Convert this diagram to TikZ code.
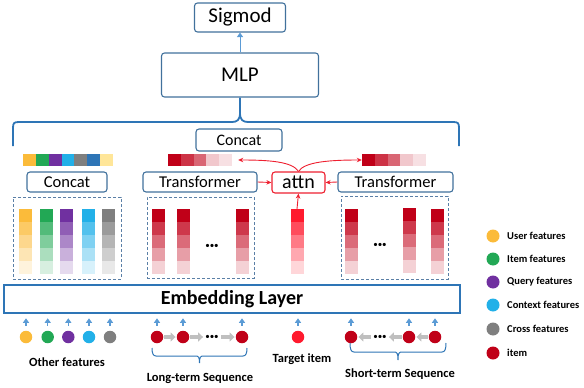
\documentclass[tikz,border=0pt]{standalone}
\usepackage{fontspec}
\setmainfont{Carlito}
\usetikzlibrary{arrows.meta}
\definecolor{boxblue}{HTML}{41719C}
\definecolor{dashblue}{HTML}{5A7FA6}
\definecolor{braceblue}{HTML}{2E75B6}
\definecolor{arrblue}{HTML}{5B9BD5}
\definecolor{cyel}{HTML}{FBBB3A}
\definecolor{cgrn}{HTML}{22A855}
\definecolor{cpur}{HTML}{7030A0}
\definecolor{ccya}{HTML}{22B0E8}
\definecolor{cgry}{HTML}{7F7F7F}
\definecolor{cblu}{HTML}{2E75B6}
\definecolor{clyel}{HTML}{FFE699}
\definecolor{cdred}{HTML}{C00018}
\definecolor{cbred}{HTML}{FF1A2E}
\definecolor{attnred}{HTML}{EE2030}
\definecolor{arrgray}{HTML}{BFBFBF}
\newcommand{\stackcol}[4]{%
  \node[inner sep=0,minimum width=13pt,minimum height=65pt] (#1) at (#2,#3+32.5) {};
  \foreach \k/\p in {0/100,1/78,2/58,3/38,4/18}{\fill[#4!\p] (#2-6.5,#3+\k*13) rectangle ++(13,13);}
}
\newcommand{\sqbrace}[5]{% x1 x2 ytop yh ytip
  \draw[braceblue,line width=1pt] (#1,#3) .. controls (#1,#4-3) and (#1+1,#4) .. (#1+4,#4)
    -- ({(#1+#2)/2-4},#4) .. controls ({(#1+#2)/2-1},#4) and ({(#1+#2)/2},#4+1) .. ({(#1+#2)/2},#5)
    .. controls ({(#1+#2)/2},#4+1) and ({(#1+#2)/2+1},#4) .. ({(#1+#2)/2+4},#4)
    -- (#2-4,#4) .. controls (#2-1,#4) and (#2,#4-3) .. (#2,#3);
}
\tikzset{
  bbox/.style={draw=boxblue,line width=1.1pt,rounded corners=3pt,fill=white,inner sep=0,text=black},
  dbox/.style={draw=dashblue,line width=0.9pt,dash pattern=on 3pt off 2pt},
  redarr/.style={draw=attnred,line width=0.9pt,-{Stealth[length=5pt,width=4.5pt]}},
  bluearr/.style={draw=arrblue,line width=1.4pt,-{Triangle[length=4.5pt,width=6pt]}},
  grayarr/.style={draw=arrgray,line width=4pt,-{Triangle[length=5pt,width=9pt]},shorten <=1pt,shorten >=1pt},
  dot/.style={circle,minimum size=12.5pt,inner sep=0},
  ldot/.style={circle,minimum size=13pt,inner sep=0},
  lab/.style={font=\fontsize{12.5}{14}\selectfont\bfseries},
  legtxt/.style={anchor=west,font=\fontsize{10.5}{12}\selectfont\bfseries,inner sep=0},
  dots/.style={font=\fontsize{9}{9}\selectfont,inner sep=1pt}
}
\begin{document}
\begin{tikzpicture}[x=1pt,y=-1pt]
\useasboundingbox (0,0) rectangle (584,388);
% top boxes
\node[bbox,minimum width=91pt,minimum height=29pt,font=\fontsize{21}{22}\selectfont] (sig) at (240,17.5) {Sigmod};
\node[bbox,minimum width=157pt,minimum height=44pt,font=\fontsize{21}{22}\selectfont] (mlp) at (240,75) {MLP};
\draw[bluearr,line width=1pt] (mlp.north) -- (sig.south);
% big brace
\coordinate (bl) at (13,146);
\coordinate (br) at (459,146);
\draw[braceblue,line width=1.8pt] (bl) -- (13,128) .. controls (13,123) and (14,122) .. (19,122) -- (232,122)
   .. controls (237,122) and (240,120) .. (240,113) -- (mlp.south);
\draw[braceblue,line width=1.8pt] (br) -- (459,128) .. controls (459,123) and (458,122) .. (453,122) -- (248,122)
   .. controls (243,122) and (240,120) .. (240,113);
\node[bbox,minimum width=86pt,minimum height=22pt,font=\fontsize{16}{18}\selectfont] (ctop) at (239,140) {Concat};
% top bars
\node[inner sep=0,minimum width=90pt,minimum height=12pt] (barL) at (68,160) {};
\foreach \c [count=\i from 0] in {cyel,cgrn,cpur,ccya,cgry,cblu,clyel}
  \fill[\c] (23+\i*12.86,154) rectangle ++(12.86,12);
\node[inner sep=0,minimum width=64pt,minimum height=12pt] (rbar1) at (200,160) {};
\foreach \p [count=\i from 0] in {100,80,60,22,12}
  \fill[cdred!\p] (168+\i*12.8,154) rectangle ++(12.8,12);
\node[inner sep=0,minimum width=64pt,minimum height=12pt] (rbar2) at (394,160) {};
\foreach \p [count=\i from 0] in {100,80,60,22,12}
  \fill[cdred!\p] (362+\i*12.8,154) rectangle ++(12.8,12);
% middle boxes
\node[bbox,minimum width=80pt,minimum height=20pt,font=\fontsize{16.5}{18}\selectfont] (cleft) at (67,182) {Concat};
\node[bbox,minimum width=114pt,minimum height=20pt,font=\fontsize{16.5}{18}\selectfont] (transL) at (200,182) {Transformer};
\node[bbox,draw=attnred,minimum width=53pt,minimum height=21pt,font=\fontsize{20}{22}\selectfont] (attn) at (298.5,182.5) {attn};
\node[bbox,minimum width=115pt,minimum height=20pt,font=\fontsize{16.5}{18}\selectfont] (transR) at (395.5,182) {Transformer};
% dashed groups
\node[dbox,minimum width=108pt,minimum height=82pt] (dashL) at (67,238) {};
\node[dbox,minimum width=107pt,minimum height=81pt] (dashM) at (200.5,237.5) {};
\node[dbox,minimum width=107pt,minimum height=83pt] (dashR) at (394.5,237.5) {};
% columns
\stackcol{f1}{25.5}{209}{cyel}
\stackcol{f2}{46}{209}{cgrn}
\stackcol{f3}{66.5}{209}{cpur}
\stackcol{f4}{88}{209}{ccya}
\stackcol{f5}{108.5}{209}{cgry}
\stackcol{m1}{158}{209}{cdred}
\stackcol{m2}{183}{209}{cdred}
\stackcol{m3}{242}{209}{cdred}
\stackcol{tcol}{297}{209}{cbred}
\stackcol{r1}{351.5}{209}{cdred}
\stackcol{r2}{409}{208}{cdred}
\stackcol{r3}{437}{209}{cdred}
\node[dots] (mdots) at (212,246) {•••};
\node[dots] (rdots) at (380,245) {•••};
% red arrows
\draw[redarr] (transL.east) -- (attn.west);
\draw[redarr] (transR.west) -- (attn.east);
\draw[redarr] (tcol.north) -- (attn.south);
\draw[redarr] (attn.north) .. controls +(-6,-10) and +(30,0) .. ([xshift=6pt]rbar1.east);
\draw[redarr] (attn.north) .. controls +(6,-10) and +(-30,0) .. (rbar2.west);
% embedding layer
\node[draw=braceblue,line width=1.6pt,minimum width=456pt,minimum height=28pt,inner sep=0,font=\fontsize{20}{22}\selectfont\bfseries] (emb) at (232,299) {Embedding Layer};
% bottom circles
\foreach \n/\x/\c in {o1/26/cyel,o2/47.7/cgrn,o3/68.3/cpur,o4/89/ccya,o5/110/cgry,
    l1/157/cdred,l2/183/cdred,l3/242/cdred,t1/298/cbred,s1/351/cdred,s2/409/cdred,s3/435/cdred}{
  \node[dot,fill=\c] (\n) at (\x,337) {};
  \draw[bluearr,shorten <=5pt,shorten >=4.5pt] (\n.north) -- (\n.north |- emb.south);
}
\node[dots] (ldots) at (212,337) {•••};
\node[dots] (sdots) at (380,337) {•••};
\draw[grayarr] (l1.east) -- (l2.west);
\draw[grayarr] (l2.east) -- (ldots.west);
\draw[grayarr] (ldots.east) -- (l3.west);
\draw[grayarr] (s3.west) -- (s2.east);
\draw[grayarr] (s2.west) -- (sdots.east);
\draw[grayarr] (sdots.west) -- (s1.east);
% braces and labels
\sqbrace{152}{247}{348}{356}{363}
\sqbrace{350}{446}{343}{352}{360}
\node[lab] (lother) at (67,362) {Other features};
\node[lab] (llong) at (200,378) {Long-term Sequence};
\node[lab] (ltarget) at (302,359) {Target item};
\node[lab] (lshort) at (400,374) {Short-term Sequence};
% legend
\foreach \n/\y/\c/\t in {g1/236/cyel/User features,g2/259/cgrn/Item features,g3/282/cpur/Query features,
    g4/305/ccya/Context features,g5/329/cgry/Cross features,g6/353/cdred/item}{
  \node[ldot,fill=\c] (\n) at (493,\y) {};
  \node[legtxt] (\n t) at (507,\y) {\t};
}
\end{tikzpicture}
\end{document}
